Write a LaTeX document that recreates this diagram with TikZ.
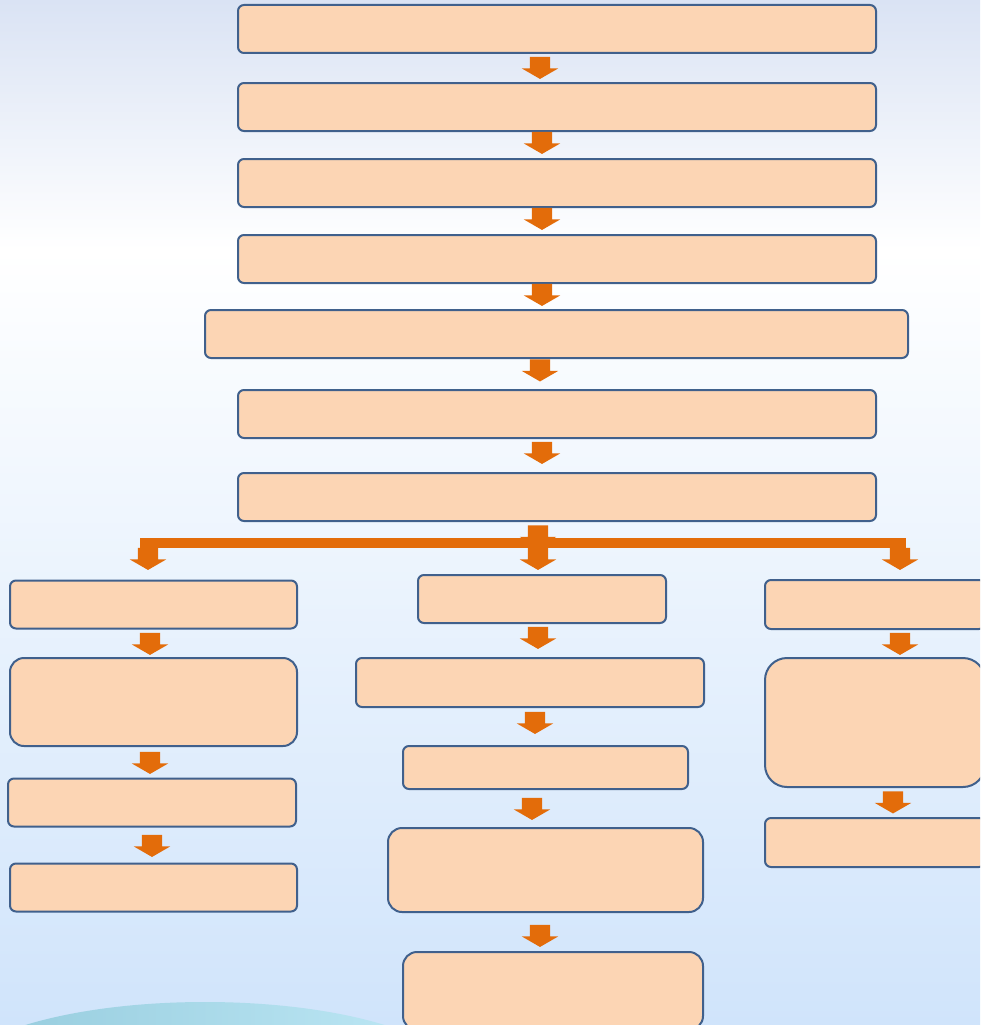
\documentclass[tikz,border=0pt]{standalone}
\usepackage{xcolor}
\usepackage{tikz}
\usetikzlibrary{shapes.arrows, positioning, calc}
\definecolor{peachfill}{RGB}{252, 213, 180}
\definecolor{boxblue}{RGB}{64, 96, 140}
\definecolor{flowor}{RGB}{227, 108, 10}
\definecolor{bgtop}{RGB}{218, 227, 244}
\definecolor{bgmid}{RGB}{255, 255, 255}
\definecolor{bglow}{RGB}{208, 228, 251}
\definecolor{hillleft}{RGB}{147, 202, 220}
\definecolor{hillright}{RGB}{192, 233, 246}

\begin{document}
\begin{tikzpicture}[x=1pt, y=-1pt,
    stepbox/.style={fill=peachfill, draw=boxblue, line width=2pt, rounded corners=6pt,
          inner sep=0pt, minimum height=48},
    tallbox/.style={stepbox, rounded corners=14pt},
    downarrow/.style={single arrow, fill=flowor, draw=none, shape border rotate=270,
          inner xsep=10pt, inner ysep=0pt, minimum height=22, single arrow head extend=8,
          single arrow tip angle=120, yshift=3pt}]
    % background
    \useasboundingbox (0,0) rectangle (980,1025);
    \clip (0,0) rectangle (980,1025);
    \shade[top color=bgtop, bottom color=bgmid] (0,0) rectangle (980,250);
    \shade[top color=bgmid, bottom color=bglow] (0,250) rectangle (980,1025);
    \shade[left color=hillleft, right color=hillright] (205,1082) ellipse (256 and 80);

    % main chain
    \node[stepbox, minimum width=638] (b1) at (557,29) {};
    \node[stepbox, minimum width=638] (b2) at (557,107) {};
    \node[stepbox, minimum width=638] (b3) at (557,183) {};
    \node[stepbox, minimum width=638] (b4) at (557,259) {};
    \node[stepbox, minimum width=703] (b5) at (556.5,334) {};
    \node[stepbox, minimum width=638] (b6) at (557,414) {};
    \node[stepbox, minimum width=638] (b7) at (557,497) {};
    \node[downarrow] (a1) at (540,68) {};
    \node[downarrow] (a2) at (542,143) {};
    \node[downarrow] (a3) at (542,219) {};
    \node[downarrow] (a4) at (542,295) {};
    \node[downarrow] (a5) at (540,370.5) {};
    \node[downarrow] (a6) at (542,453) {};

    % split bar
    \node[fill=flowor, inner sep=0pt, minimum width=766, minimum height=10] (bar) at (523,542.5) {};
    \node[downarrow] (a7) at (538,536.5) {};
    \node[downarrow] (al) at (148,559) {};
    \node[downarrow] (am) at (538,559) {};
    \node[downarrow] (ar) at (900,559) {};

    % left branch
    \node[stepbox, minimum width=287] (l1) at (153.5,604.5) {};
    \node[tallbox, minimum width=287, minimum height=88] (l2) at (153.5,702) {};
    \node[stepbox, minimum width=288] (l3) at (152,802.5) {};
    \node[stepbox, minimum width=287] (l4) at (153.5,887.5) {};
    \node[downarrow] (la1) at (150,644) {};
    \node[downarrow] (la2) at (150,763) {};
    \node[downarrow] (la3) at (152,846) {};

    % middle branch
    \node[stepbox, minimum width=248] (m1) at (542,599) {};
    \node[stepbox, minimum width=348, minimum height=49] (m2) at (530,682.5) {};
    \node[stepbox, minimum width=285, minimum height=43] (m3) at (545.5,767.5) {};
    \node[tallbox, minimum width=315, minimum height=84] (m4) at (545.5,870) {};
    \node[tallbox, minimum width=300, minimum height=78] (m5) at (553,991) {};
    \node[downarrow] (ma1) at (538,638) {};
    \node[downarrow] (ma2) at (535,723) {};
    \node[downarrow] (ma3) at (532,809) {};
    \node[downarrow] (ma4) at (540,936) {};

    % right branch
    \node[stepbox, minimum width=220, minimum height=49] (r1) at (875,604.5) {};
    \node[stepbox, rounded corners=22pt, minimum width=220, minimum height=129] (r2) at (875,722.5) {};
    \node[stepbox, minimum width=220, minimum height=49] (r3) at (875,842.5) {};
    \node[downarrow] (ra1) at (900,644) {};
    \node[downarrow] (ra2) at (893,802.5) {};
\end{tikzpicture}
\end{document}
